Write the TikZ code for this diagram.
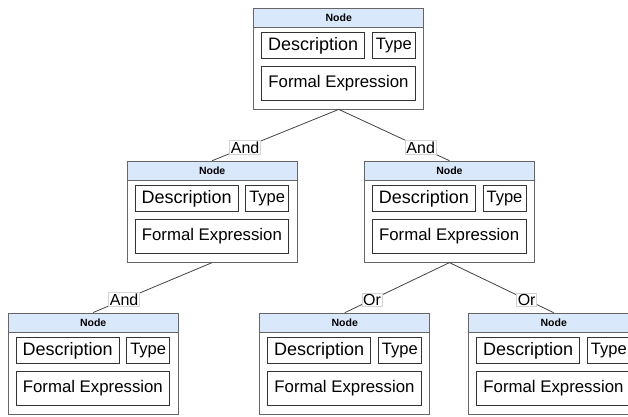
\documentclass[tikz,border=0pt]{standalone}
\usepackage{fontspec}
\setmainfont{Liberation Sans}
\usetikzlibrary{positioning}
\definecolor{headblue}{HTML}{DAE8FC}
\definecolor{boxgray}{HTML}{666666}
\definecolor{linegray}{HTML}{444444}
\definecolor{lblgray}{HTML}{D4D4D4}

% one tree node: name, x, y of its top left corner
\newcommand{\factnode}[3]{%
  \node[outer] (#1) at (#2,#3) {};
  \node[head, below=0pt of #1.north] (#1-head) {Node};
  \node[descbox, below right=24.5pt and 8pt of #1.north west] (#1-desc) {Description};
  \node[typebox, below left=24.5pt and 8.5pt of #1.north east] (#1-type) {Type};
  \node[exprbox, below right=58.5pt and 8pt of #1.north west] (#1-expr) {Formal Expression};
}

\begin{document}
\begin{tikzpicture}[x=1pt,y=-1pt,
    outer/.style={draw=boxgray, line width=0.9pt, fill=white, anchor=north west,
      minimum width=170pt, minimum height=101pt, inner sep=0pt},
    head/.style={draw=boxgray, line width=0.9pt, fill=headblue, anchor=north,
      minimum width=170pt, minimum height=19.5pt, inner sep=0pt,
      font=\bfseries\fontsize{10.5}{12}\selectfont},
    inbox/.style={draw=black!80, line width=0.8pt, inner sep=0pt},
    descbox/.style={inbox, minimum width=103pt, minimum height=26pt,
      font=\fontsize{18}{20}\selectfont},
    typebox/.style={inbox, minimum width=43pt, minimum height=26pt,
      font=\fontsize{16.5}{18}\selectfont},
    exprbox/.style={inbox, minimum width=153.5pt, minimum height=34pt,
      font=\fontsize{16.8}{19}\selectfont},
    edge/.style={draw=linegray, line width=0.8pt},
    lbl/.style={draw=lblgray, line width=0.6pt, fill=white, inner sep=1.2pt,
      pos=0.74, font=\fontsize{16}{17}\selectfont}]
  \clip (0,0) rectangle (628,416);
  \fill[white] (0,0) rectangle (628,416);

  \factnode{root}{253.3}{7.5}
  \factnode{left}{126.7}{160.7}
  \factnode{right}{364}{160.7}
  \factnode{leftleaf}{7.7}{312.5}
  \factnode{midleaf}{259.3}{312.7}
  \factnode{rightleaf}{468.3}{312.7}

  \draw [edge] (root.south) -- node[lbl] {And} (left.north);
  \draw [edge] (root.south) -- node[lbl] {And} (right.north);
  \draw [edge] (left.south) -- node[lbl] {And} (leftleaf.north);
  \draw [edge] (right.south) -- node[lbl] {Or} (midleaf.north);
  \draw [edge] (right.south) -- node[lbl] {Or} (rightleaf.north);
\end{tikzpicture}
\end{document}
